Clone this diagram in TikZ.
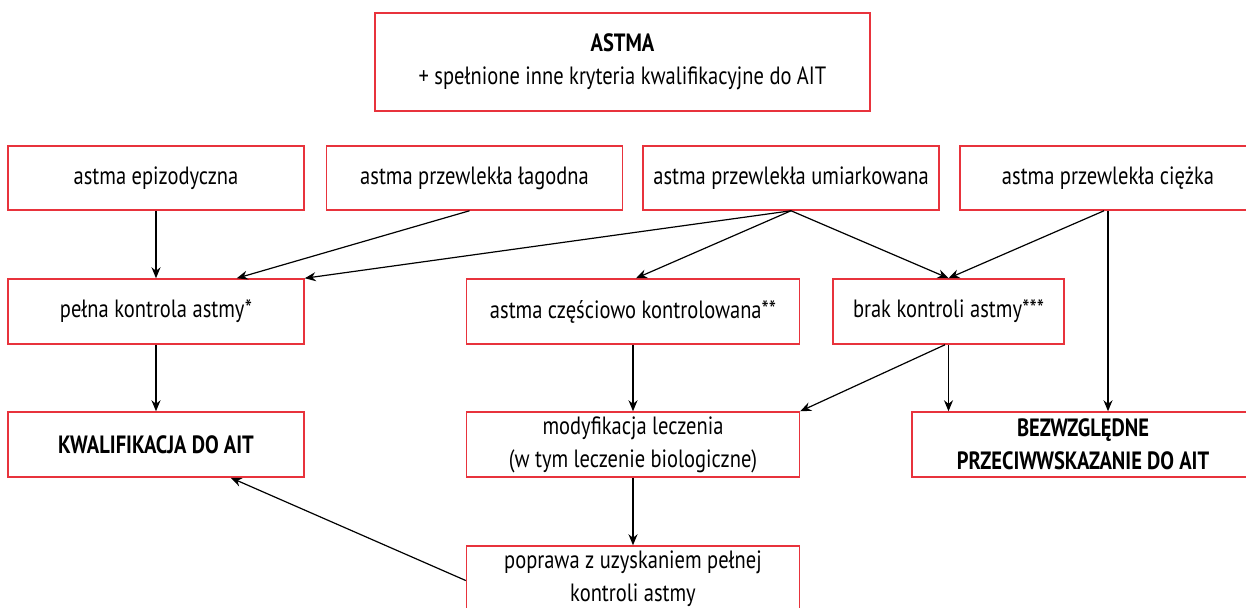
\documentclass[tikz,border=0pt]{standalone}
\usepackage{fontspec}
\setmainfont{PT Sans}[FakeStretch=0.82]
\usetikzlibrary{arrows.meta}

\definecolor{boxred}{HTML}{E8333C}

\begin{document}
\begin{tikzpicture}[x=0.5pt, y=-0.5pt,
  box/.style={draw=boxred, line width=0.75pt, inner sep=0pt, align=center,
    minimum height=32.5pt, font=\fontsize{12.5}{16.5}\selectfont},
  arr/.style={-{Stealth[length=5.5pt, width=4.5pt]}, line width=0.6pt}]

\clip (0,0) rectangle (1246,607);

% Top box
\node[box, minimum width=247.5pt, minimum height=49pt] (astma) at (622.5,62)
  {\textbf{ASTMA}\\+ spełnione inne kryteria kwalifikacyjne do AIT};

% Kinds of asthma
\node[box, minimum width=148pt, minimum height=32pt] (epi) at (156,178) {astma epizodyczna};
\node[box, minimum width=148pt, minimum height=32pt] (lag) at (474.5,178) {astma przewlekła łagodna};
\node[box, minimum width=148pt, minimum height=32pt] (umiar) at (791,178) {astma przewlekła umiarkowana};
\node[box, minimum width=148pt, minimum height=32pt] (ciez) at (1108,178) {astma przewlekła ciężka};

% Control level
\node[box, minimum width=148pt] (pelna) at (156,311.5) {pełna kontrola astmy*};
\node[box, minimum width=166.5pt] (czesc) at (633,311.5) {astma częściowo kontrolowana**};
\node[box, minimum width=115.5pt] (brak) at (948.5,311.5) {brak kontroli astmy***};

% Decision
\node[box, minimum width=148pt] (kwal) at (156,444.5) {\textbf{KWALIFIKACJA DO AIT}};
\node[box, minimum width=166.5pt] (modyf) at (633,444.5) {modyfikacja leczenia\\(w tym leczenie biologiczne)};
\node[box, minimum width=171pt] (bezw) at (1083,444.5) {\textbf{BEZWZGLĘDNE}\\\textbf{PRZECIWWSKAZANIE DO AIT}};
\node[box, minimum width=166.5pt] (popr) at (633,578.5) {poprawa z uzyskaniem pełnej\\kontroli astmy};

% Arrows
\draw[arr] (epi.south) -- (pelna.north);
\draw[arr] ([xshift=-2.5pt]lag.south) -- ([xshift=-34pt]pelna.north east);
\draw[arr] (umiar.south) -- (pelna.north east);
\draw[arr] (umiar.south) -- ([xshift=1.5pt]czesc.north);
\draw[arr] (umiar.south) -- (brak.north);
\draw[arr] ([xshift=-2pt]ciez.south) -- (brak.north);
\draw[arr] (ciez.south) -- (ciez.south |- bezw.north);
\draw[arr] (pelna.south) -- (kwal.north);
\draw[arr] (czesc.south) -- (modyf.north);
\draw[arr] ([xshift=-1.75pt]brak.south) -- (modyf.north east);
\draw[arr] (brak.south) -- (brak.south |- bezw.north);
\draw[arr] (modyf.south) -- (popr.north);
\draw[arr] ([yshift=-1pt]popr.west) -- ([xshift=-37pt]kwal.south east);

\end{tikzpicture}
\end{document}
